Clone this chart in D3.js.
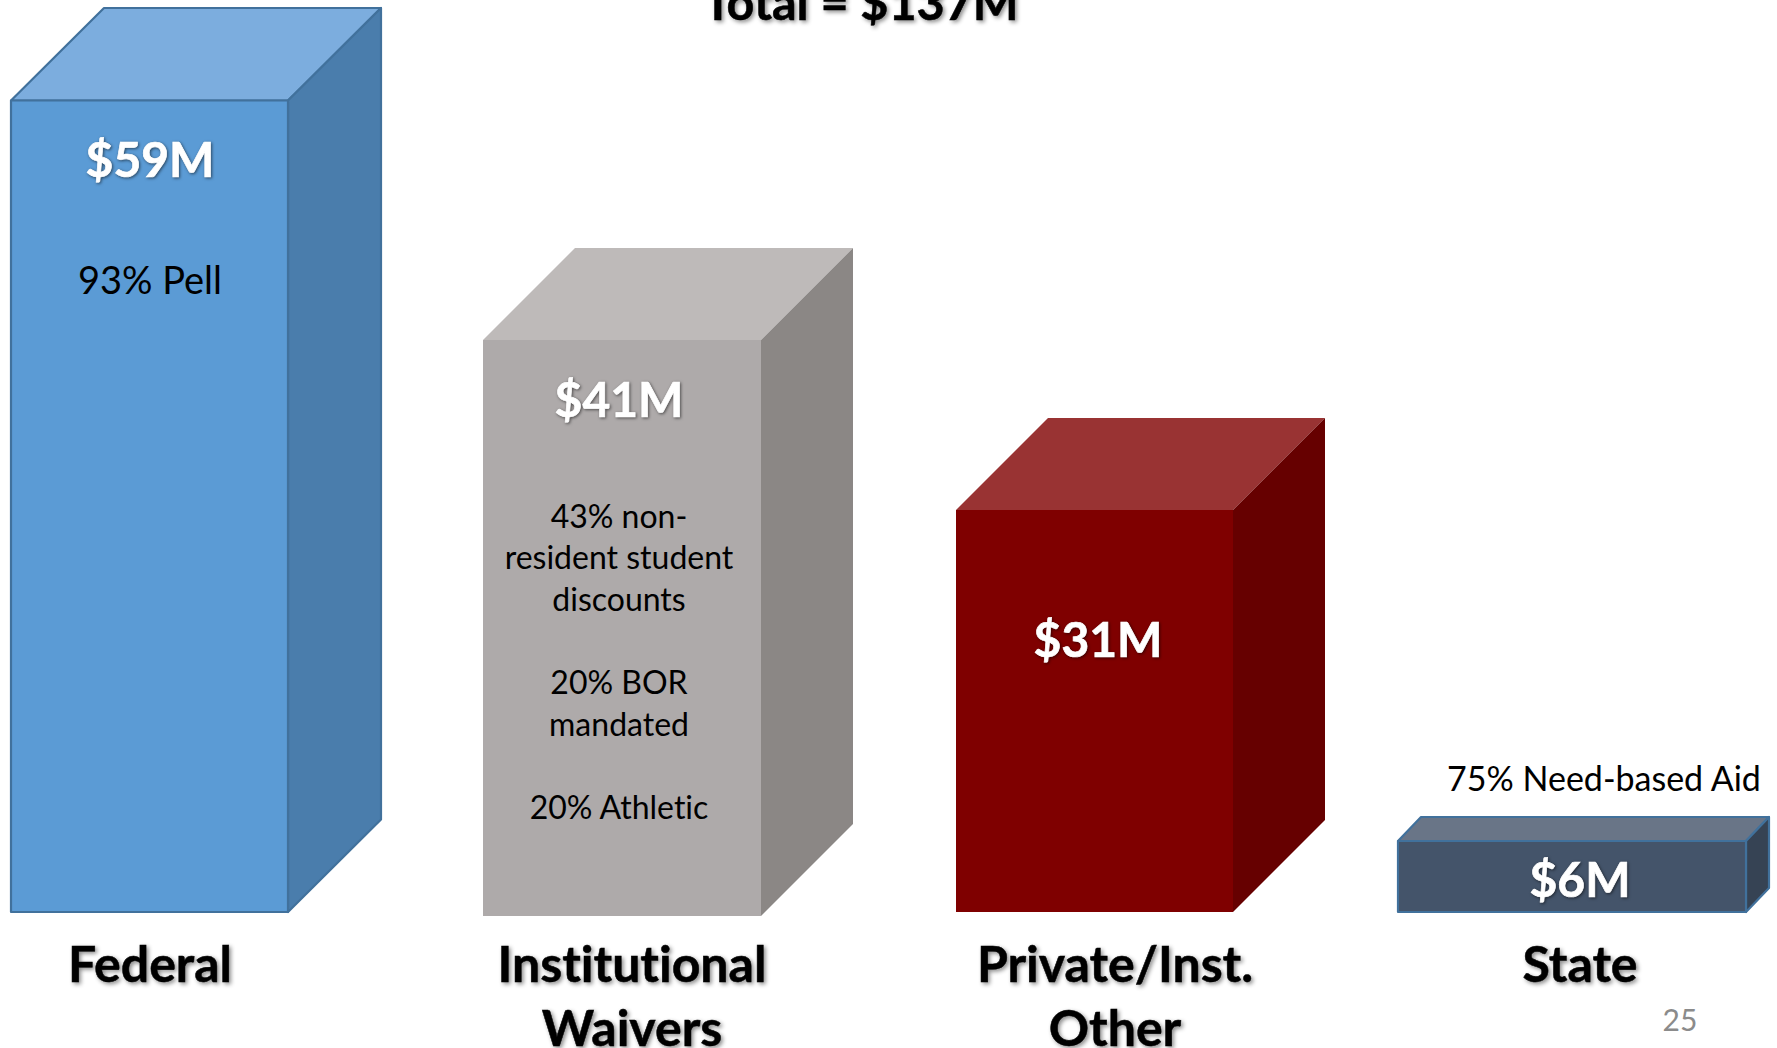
<!DOCTYPE html>
<html>
<head>
<meta charset="utf-8">
<script src="https://cdn.jsdelivr.net/npm/d3@7"></script>
<style>
    html, body { margin: 0; padding: 0; background: #fff; }
    svg { display: block; }
    text { font-family: Lato, "Open Sans", sans-serif; text-anchor: middle; font-variant-ligatures: none; }
    .title, .cat { font-weight: 700; fill: #000; stroke: #000; stroke-width: 0.5; filter: drop-shadow(2px 2px 2px rgba(0,0,0,.45)); }
    .value { font-weight: 700; fill: #fff; stroke: #fff; stroke-width: 0.7; filter: drop-shadow(1.5px 1.5px 1.5px rgba(0,0,0,.55)); }
    .note { fill: #000; }
</style>
</head>
<body>
<div id="chart"></div>
<script>
// values in $M, as printed on the bars
const categories = ["Federal", "Institutional Waivers", "Private/Inst. Other", "State"];
const values = [59, 41, 31, 6];
const valueLabels = ["$59M", "$41M", "$31M", "$6M"];
const categoryLines = [["Federal"], ["Institutional", "Waivers"], ["Private/Inst.", "Other"], ["State"]];
const noteLines = [
    ["93% Pell"],
    ["43% non-", "resident student", "discounts", "", "20% BOR", "mandated", "", "20% Athletic"],
    [],
    ["75% Need-based Aid"],
];
const title = "Total = $137M";
const pageNumber = "25";

const width = 1777;
const height = 1048;

// the bars on the slide are hand drawn shapes, so height is not quite proportional to value
const y = d3.scaleLinear().domain([6, 31, 41, 59]).range([71, 402, 576, 811.5]);
const x = d3.scaleOrdinal().domain(categories).range([11, 483, 956, 1398]);
const barWidth = d3.scaleOrdinal().domain(categories).range([277, 278, 277, 348]);
const depthX = d3.scaleOrdinal().domain(categories).range([93, 92, 92, 23]);
const depthY = d3.scaleOrdinal().domain(categories).range([92.5, 92, 92, 24]);
const baseline = d3.scaleOrdinal().domain(categories).range([912, 916, 912, 912]);

const frontColor = d3.scaleOrdinal().domain(categories).range(["#5b9bd5", "#aeaaaa", "#7f0000", "#44546a"]);
const topColor = d3.scaleOrdinal().domain(categories).range(["#7cadde", "#bebab9", "#993333", "#697587"]);
const sideColor = d3.scaleOrdinal().domain(categories).range(["#4a7dac", "#8b8785", "#660000", "#364354"]);
const strokeColor = d3.scaleOrdinal().domain(categories).range(["#41719c", "none", "none", "#41719c"]);

const valueX = d3.scaleOrdinal().domain(categories).range([150, 619, 1098, 1580]);
const valueY = d3.scaleOrdinal().domain(categories).range([177, 417, 657, 897]);
const valueSize = 48;
const catX = d3.scaleOrdinal().domain(categories).range([150, 632, 1115, 1580]);
const noteX = d3.scaleOrdinal().domain(categories).range([150, 619, 0, 1604]);
const noteY = d3.scaleOrdinal().domain(categories).range([294, 527.5, 0, 791]);
const noteSize = d3.scaleOrdinal().domain(categories).range([38, 32, 32, 34]);

const svg = d3.select("#chart").append("svg").attr("width", width).attr("height", height);

const bars = svg.selectAll("g.bar")
    .data(categories.map((c, i) => ({ c, v: values[i] })))
    .join("g")
    .attr("class", "bar")
    .attr("stroke", d => strokeColor(d.c))
    .attr("stroke-width", 2.2)
    .attr("stroke-linejoin", "round");

const line = d3.line();

// top face
bars.append("path")
    .attr("fill", d => topColor(d.c))
    .attr("d", d => {
        const l = x(d.c), r = l + barWidth(d.c), t = baseline(d.c) - y(d.v);
        const kx = depthX(d.c), ky = depthY(d.c);
        return line([[l, t], [l + kx, t - ky], [r + kx, t - ky], [r, t]]) + "Z";
    });

// side face
bars.append("path")
    .attr("fill", d => sideColor(d.c))
    .attr("d", d => {
        const r = x(d.c) + barWidth(d.c), t = baseline(d.c) - y(d.v), b = baseline(d.c);
        const kx = depthX(d.c), ky = depthY(d.c);
        return line([[r, t], [r + kx, t - ky], [r + kx, b - ky], [r, b]]) + "Z";
    });

// front face
bars.append("rect")
    .attr("fill", d => frontColor(d.c))
    .attr("x", d => x(d.c))
    .attr("y", d => baseline(d.c) - y(d.v))
    .attr("width", d => barWidth(d.c))
    .attr("height", d => y(d.v));

svg.selectAll("text.value")
    .data(categories)
    .join("text")
    .attr("class", "value")
    .attr("x", d => valueX(d))
    .attr("y", d => valueY(d))
    .attr("font-size", valueSize)
    .text((d, i) => valueLabels[i]);

categories.forEach((c, i) => {
    noteLines[i].forEach((t, j) => {
        if (!t) return;
        svg.append("text")
            .attr("class", "note")
            .attr("x", noteX(c))
            .attr("y", noteY(c) + j * 41.6)
            .attr("font-size", noteSize(c))
            .text(t);
    });
    categoryLines[i].forEach((t, j) => {
        svg.append("text")
            .attr("class", "cat")
            .attr("x", catX(c))
            .attr("y", 982 + j * 64)
            .attr("font-size", 50)
            .text(t);
    });
});

svg.append("text")
    .attr("class", "title")
    .attr("x", 861)
    .attr("y", 20)
    .attr("font-size", 48.5)
    .text(title);

svg.append("text")
    .attr("x", 1680)
    .attr("y", 1031)
    .attr("font-size", 30)
    .attr("fill", "#8b8b8b")
    .text(pageNumber);
</script>
</body>
</html>
